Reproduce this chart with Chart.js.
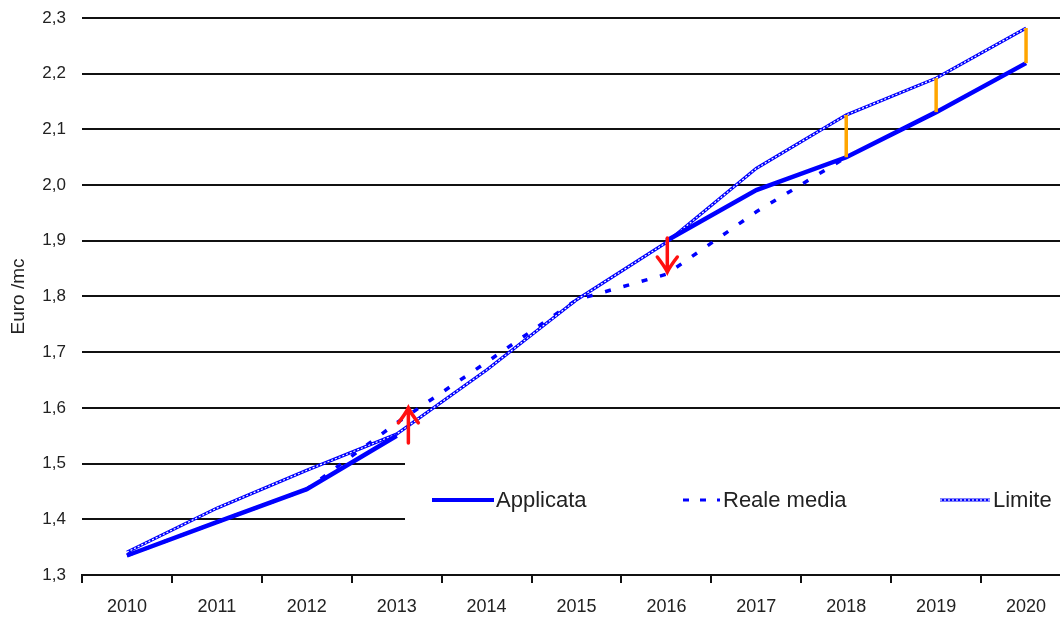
<!DOCTYPE html>
<html>
<head>
<meta charset="utf-8">
<script src="https://cdn.jsdelivr.net/npm/chart.js@4"></script>
<style>
  html, body { margin: 0; padding: 0; background: #fff; overflow: hidden; }
  #wrap { width: 1080px; height: 621px; }
</style>
</head>
<body>
<div id="wrap"><canvas id="mychart" width="1080" height="621"></canvas></div>
<script>
const years = ['2010', '2011', '2012', '2013', '2014', '2015', '2016', '2017', '2018', '2019', '2020'];
const applicata = [1.335, 1.395, 1.454, 1.55, null, null, 1.90, 1.991, 2.05, 2.131, 2.219];
const realeMedia = [1.335, 1.395, 1.454, 1.573, 1.682, 1.794, 1.840, 1.952, 2.05, null, null];
const limite = [1.341, 1.42, 1.488, 1.553, 1.668, 1.794, 1.897, 2.03, 2.126, 2.192, 2.282];
const yTicks = [1.3, 1.4, 1.5, 1.6, 1.7, 1.8, 1.9, 2.0, 2.1, 2.2, 2.3];

// red arrows: position as category index, value at tail and at head
const arrows = [
    { at: 3.13, from: 1.537, to: 1.60 },
    { at: 6.01, from: 1.905, to: 1.844 }
];
// years where the gap between Limite and Applicata is marked
const gapYears = ['2018', '2019', '2020'];

const BLUE = '#0000ff';
const FONT = 'Liberation Sans, Arial, sans-serif';

// white panel behind the legend, covering the lower grid lines
const legendPanel = {
    id: 'legendPanel',
    beforeDatasetsDraw(chart) {
        const c = chart.ctx;
        c.save();
        c.fillStyle = '#fff';
        c.fillRect(405, 448, 700, 85);
        c.restore();
    }
};

const marks = {
    id: 'marks',
    afterDatasetsDraw(chart) {
        const c = chart.ctx;
        const x = chart.scales.x;
        const y = chart.scales.y;
        c.save();

        // orange gaps
        c.strokeStyle = '#ffa500';
        c.lineWidth = 3.5;
        gapYears.forEach(yr => {
            const i = years.indexOf(yr);
            const px = x.getPixelForValue(i);
            c.beginPath();
            c.moveTo(px, y.getPixelForValue(limite[i]));
            c.lineTo(px, y.getPixelForValue(applicata[i]));
            c.stroke();
        });

        // red arrows
        c.strokeStyle = '#ff1010';
        c.lineWidth = 3.5;
        c.lineCap = 'round';
        arrows.forEach(a => {
            const px = x.getPixelForValue(a.at);
            const y0 = y.getPixelForValue(a.from);
            const y1 = y.getPixelForValue(a.to);
            const dir = y1 < y0 ? 1 : -1;
            c.beginPath();
            c.moveTo(px, y0);
            c.lineTo(px, y1);
            c.moveTo(px - 10, y1 + dir * 15);
            c.quadraticCurveTo(px - 3, y1 + dir * 6, px, y1);
            c.quadraticCurveTo(px + 3, y1 + dir * 6, px + 10, y1 + dir * 15);
            c.stroke();
        });

        // legend
        c.lineCap = 'butt';
        c.strokeStyle = BLUE;
        c.lineWidth = 4;
        c.beginPath();
        c.moveTo(432, 500);
        c.lineTo(494, 500);
        c.stroke();

        c.lineWidth = 3;
        c.setLineDash([6, 11]);
        c.beginPath();
        c.moveTo(683, 500);
        c.lineTo(720, 500);
        c.stroke();
        c.setLineDash([]);

        c.lineWidth = 3;
        c.beginPath();
        c.moveTo(940, 500);
        c.lineTo(990, 500);
        c.stroke();
        c.strokeStyle = '#fff';
        c.lineWidth = 1.2;
        c.setLineDash([2, 2]);
        c.beginPath();
        c.moveTo(940, 500);
        c.lineTo(990, 500);
        c.stroke();
        c.setLineDash([]);

        c.fillStyle = '#222';
        c.font = '22px ' + FONT;
        c.textBaseline = 'middle';
        c.fillText('Applicata', 496, 501);
        c.fillText('Reale media', 723, 501);
        c.fillText('Limite', 993, 501);
        c.restore();
    }
};

const ctx = document.getElementById('mychart').getContext('2d');
let myChart = new Chart(ctx, {
    type: 'line',
    data: {
        labels: years,
        datasets: [
            {
                label: 'Applicata',
                data: applicata,
                borderColor: BLUE,
                borderWidth: 4.5,
                spanGaps: false
            },
            {
                label: 'Limite (centro)',
                data: limite,
                borderColor: '#ffffff',
                borderWidth: 1.2,
                borderDash: [2, 2]
            },
            {
                label: 'Limite',
                data: limite,
                borderColor: BLUE,
                borderWidth: 3.2
            },
            {
                label: 'Reale media',
                data: realeMedia,
                borderColor: BLUE,
                borderWidth: 3.5,
                borderDash: [6, 13]
            }
        ]
    },
    options: {
        responsive: false,
        animation: false,
        devicePixelRatio: 1,
        elements: { point: { radius: 0 }, line: { tension: 0 } },
        layout: { padding: { top: 18, right: 9, left: 0, bottom: 0 } },
        plugins: {
            legend: { display: false },
            tooltip: { enabled: false }
        },
        scales: {
            x: {
                offset: true,
                grid: {
                    offset: true,
                    drawOnChartArea: false,
                    drawTicks: true,
                    tickLength: 8,
                    color: '#111',
                    lineWidth: 2
                },
                border: { display: true, color: '#111', width: 2 },
                ticks: {
                    color: '#222',
                    font: { size: 18, family: FONT },
                    padding: 13,
                    maxRotation: 0
                },
                afterFit: s => { s.height = 46; }
            },
            y: {
                min: 1.3,
                max: 2.3,
                afterBuildTicks: s => { s.ticks = yTicks.map(v => ({ value: v })); },
                grid: {
                    color: '#111',
                    lineWidth: 2,
                    drawTicks: false
                },
                border: { display: false },
                ticks: {
                    color: '#222',
                    font: { size: 17, family: FONT },
                    padding: 16,
                    callback: v => v.toFixed(1).replace('.', ',')
                },
                title: {
                    display: true,
                    text: 'Euro /mc',
                    color: '#222',
                    font: { size: 19, family: FONT },
                    padding: { top: 7, bottom: 0 }
                },
                afterFit: s => {
                    s.width = 82;
                    s.paddingTop = 0;
                    s.paddingBottom = 0;
                }
            }
        }
    },
    plugins: [legendPanel, marks]
});
</script>
</body>
</html>
